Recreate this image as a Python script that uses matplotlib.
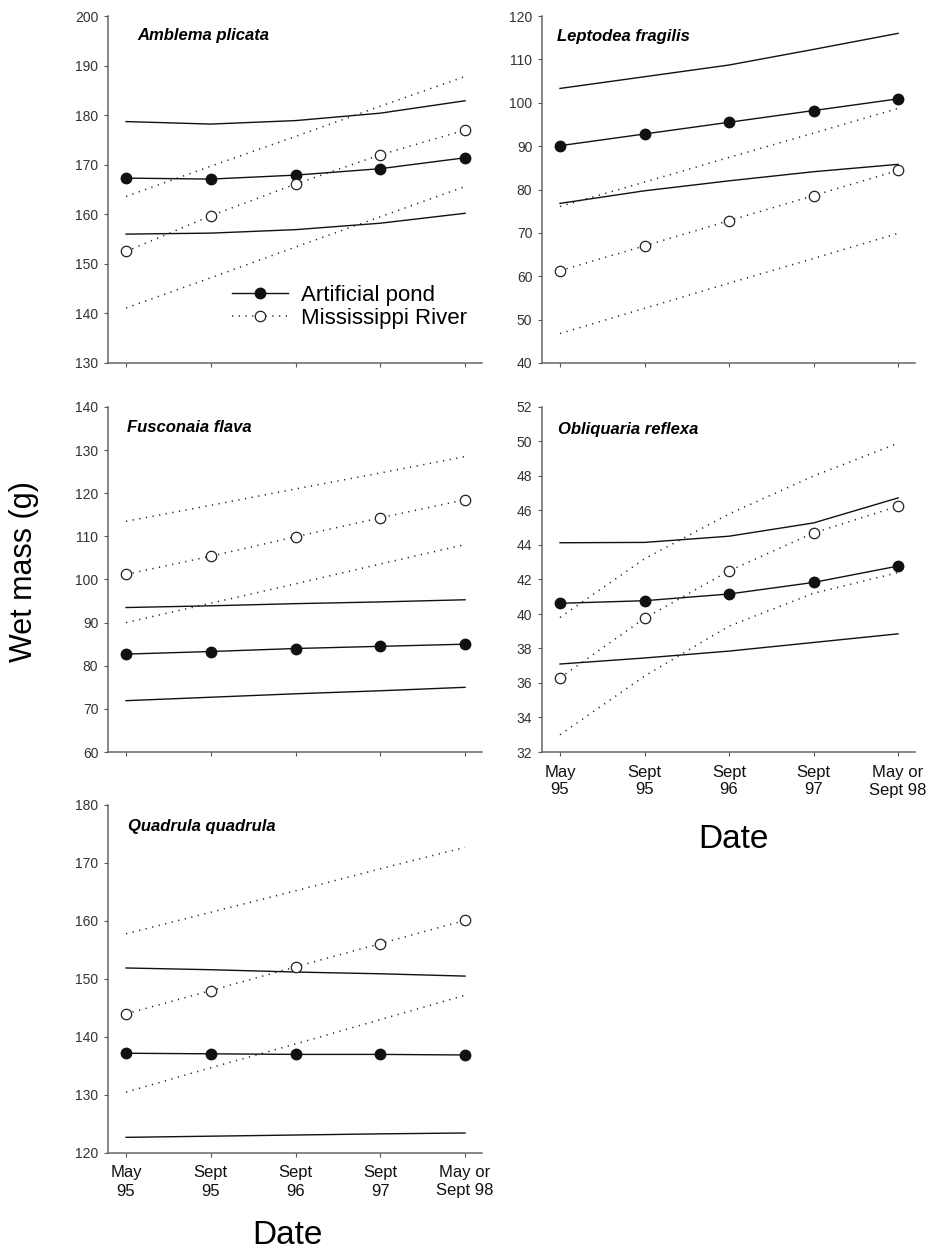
import matplotlib
matplotlib.use('Agg')
import matplotlib.pyplot as plt
import numpy as np

plt.rcParams['font.family'] = ['Liberation Sans', 'DejaVu Sans']

dates = ['May\n95', 'Sept\n95', 'Sept\n96', 'Sept\n97', 'May or\nSept 98']

# Amblema plicata
amblema_pond = [167.3, 167.1, 167.9, 169.2, 171.4]
amblema_pond_hi = [178.7, 178.2, 178.9, 180.4, 182.9]
amblema_pond_lo = [156.0, 156.2, 156.9, 158.2, 160.2]
amblema_river = [152.5, 159.7, 166.1, 172.0, 177.0]
amblema_river_hi = [163.6, 169.7, 175.7, 181.8, 187.8]
amblema_river_lo = [141.1, 147.2, 153.4, 159.5, 165.6]

# Leptodea fragilis
leptodea_pond = [90.1, 92.8, 95.5, 98.2, 100.9]
leptodea_pond_hi = [103.3, 106.0, 108.7, 112.3, 116.0]
leptodea_pond_lo = [76.8, 79.7, 82.0, 84.1, 85.8]
leptodea_river = [61.3, 67.0, 72.8, 78.6, 84.4]
leptodea_river_hi = [76.1, 81.7, 87.4, 93.0, 98.7]
leptodea_river_lo = [46.8, 52.6, 58.4, 64.1, 69.9]

# Fusconaia flava
fusconaia_pond = [82.7, 83.3, 84.0, 84.5, 85.0]
fusconaia_pond_hi = [93.5, 93.9, 94.4, 94.8, 95.3]
fusconaia_pond_lo = [71.9, 72.7, 73.5, 74.2, 75.0]
fusconaia_river = [101.2, 105.4, 109.9, 114.3, 118.5]
fusconaia_river_hi = [113.5, 117.2, 121.0, 124.7, 128.5]
fusconaia_river_lo = [90.0, 94.5, 99.0, 103.6, 108.1]

# Obliquaria reflexa
obliquaria_pond = [40.62, 40.77, 41.16, 41.83, 42.78]
obliquaria_pond_hi = [44.13, 44.15, 44.51, 45.28, 46.73]
obliquaria_pond_lo = [37.1, 37.45, 37.85, 38.35, 38.85]
obliquaria_river = [36.3, 39.75, 42.5, 44.7, 46.25]
obliquaria_river_hi = [39.8, 43.2, 45.8, 48.0, 49.9]
obliquaria_river_lo = [33.0, 36.4, 39.3, 41.2, 42.4]

# Quadrula quadrula
quadrula_pond = [137.2, 137.1, 137.0, 137.0, 136.9]
quadrula_pond_hi = [151.9, 151.6, 151.2, 150.9, 150.5]
quadrula_pond_lo = [122.7, 122.9, 123.1, 123.3, 123.45]
quadrula_river = [144.0, 148.0, 152.1, 156.1, 160.1]
quadrula_river_hi = [157.8, 161.5, 165.2, 169.0, 172.7]
quadrula_river_lo = [130.5, 134.7, 138.8, 143.0, 147.2]

W, H = 926, 1254
fig = plt.figure(figsize = (W / 100, H / 100), dpi = 100)

def Rect(left, top, width, bottom):
    return [left / W, 1 - bottom / H, width / W, (bottom - top) / H]

dotted = (0, (0.8, 3.6))

def Panel(rect, name, pond, pond_hi, pond_lo, river, river_hi, river_lo,
          ylim, ystep, title_pos, xlabels, legend = False):
    ax = fig.add_axes(rect)
    x = np.arange(len(dates))
    ax.plot(x, pond_hi, c = '#111111', lw = 1.0)
    ax.plot(x, pond_lo, c = '#111111', lw = 1.0)
    ax.plot(x, river_hi, c = '#222222', lw = 1.1, ls = dotted)
    ax.plot(x, river_lo, c = '#222222', lw = 1.1, ls = dotted)
    l1, = ax.plot(x, pond, c = '#111111', lw = 1.0, marker = 'o', ms = 7.5,
                  mfc = '#111111', mec = '#111111', label = 'Artificial pond')
    l2, = ax.plot(x, river, c = '#222222', lw = 1.1, ls = dotted, marker = 'o', ms = 7.5,
                  mfc = 'white', mec = '#222222', mew = 0.9, label = 'Mississippi River')
    ax.set_xlim(-0.213, 4.2)
    ax.set_ylim(ylim)
    ax.set_yticks(np.arange(ylim[0], ylim[1] + ystep / 2, ystep))
    ax.set_xticks(x)
    if xlabels:
        ax.set_xticklabels(dates, fontsize = 12, linespacing = 1.25)
    else:
        ax.set_xticklabels([])
    for s in ['top', 'right']:
        ax.spines[s].set_visible(False)
    for s in ['left', 'bottom']:
        ax.spines[s].set_color('#666666')
        ax.spines[s].set_linewidth(1.1)
    ax.tick_params(axis = 'y', direction = 'out', length = 3, width = 0.8, color = '#555555',
                   labelsize = 10, labelcolor = '#333333', pad = 4)
    ax.tick_params(axis = 'x', direction = 'out', length = 3, width = 0.8, color = '#555555',
                   labelcolor = '#111111', pad = 6)
    ax.text(title_pos[0], title_pos[1], name, transform = ax.transAxes, fontsize = 12,
            fontstyle = 'italic', fontweight = 'bold', va = 'center', ha = 'left')
    if legend:
        ax.legend(handles = [l1, l2], loc = 'center left', bbox_to_anchor = (0.3316, 0.1614),
                  frameon = False, fontsize = 16, handlelength = 2.5, handletextpad = 0.6,
                  labelspacing = 0.1, borderpad = 0, borderaxespad = 0)
    return ax

Panel(Rect(108, 16, 374, 363), 'Amblema plicata', amblema_pond, amblema_pond_hi, amblema_pond_lo,
      amblema_river, amblema_river_hi, amblema_river_lo, (130, 200), 10, (0.078, 0.945), False, legend = True)
Panel(Rect(542, 16, 373, 363), 'Leptodea fragilis', leptodea_pond, leptodea_pond_hi, leptodea_pond_lo,
      leptodea_river, leptodea_river_hi, leptodea_river_lo, (40, 120), 10, (0.04, 0.94), False)
Panel(Rect(108, 407, 374, 752), 'Fusconaia flava', fusconaia_pond, fusconaia_pond_hi, fusconaia_pond_lo,
      fusconaia_river, fusconaia_river_hi, fusconaia_river_lo, (60, 140), 10, (0.051, 0.942), False)
Panel(Rect(542, 407, 373, 752), 'Obliquaria reflexa', obliquaria_pond, obliquaria_pond_hi, obliquaria_pond_lo,
      obliquaria_river, obliquaria_river_hi, obliquaria_river_lo, (32, 52), 2, (0.043, 0.936), True)
Panel(Rect(108, 805, 374, 1153), 'Quadrula quadrula', quadrula_pond, quadrula_pond_hi, quadrula_pond_lo,
      quadrula_river, quadrula_river_hi, quadrula_river_lo, (120, 180), 10, (0.053, 0.937), True)

fig.text(24 / W, 1 - 572 / H, 'Wet mass (g)', rotation = 90, fontsize = 22, ha = 'center', va = 'center')
fig.text(287 / W, 1 - 1235 / H, 'Date', fontsize = 24, ha = 'center', va = 'center')
fig.text(733 / W, 1 - 840 / H, 'Date', fontsize = 24, ha = 'center', va = 'center')

plt.savefig('out.png', dpi = 100)
